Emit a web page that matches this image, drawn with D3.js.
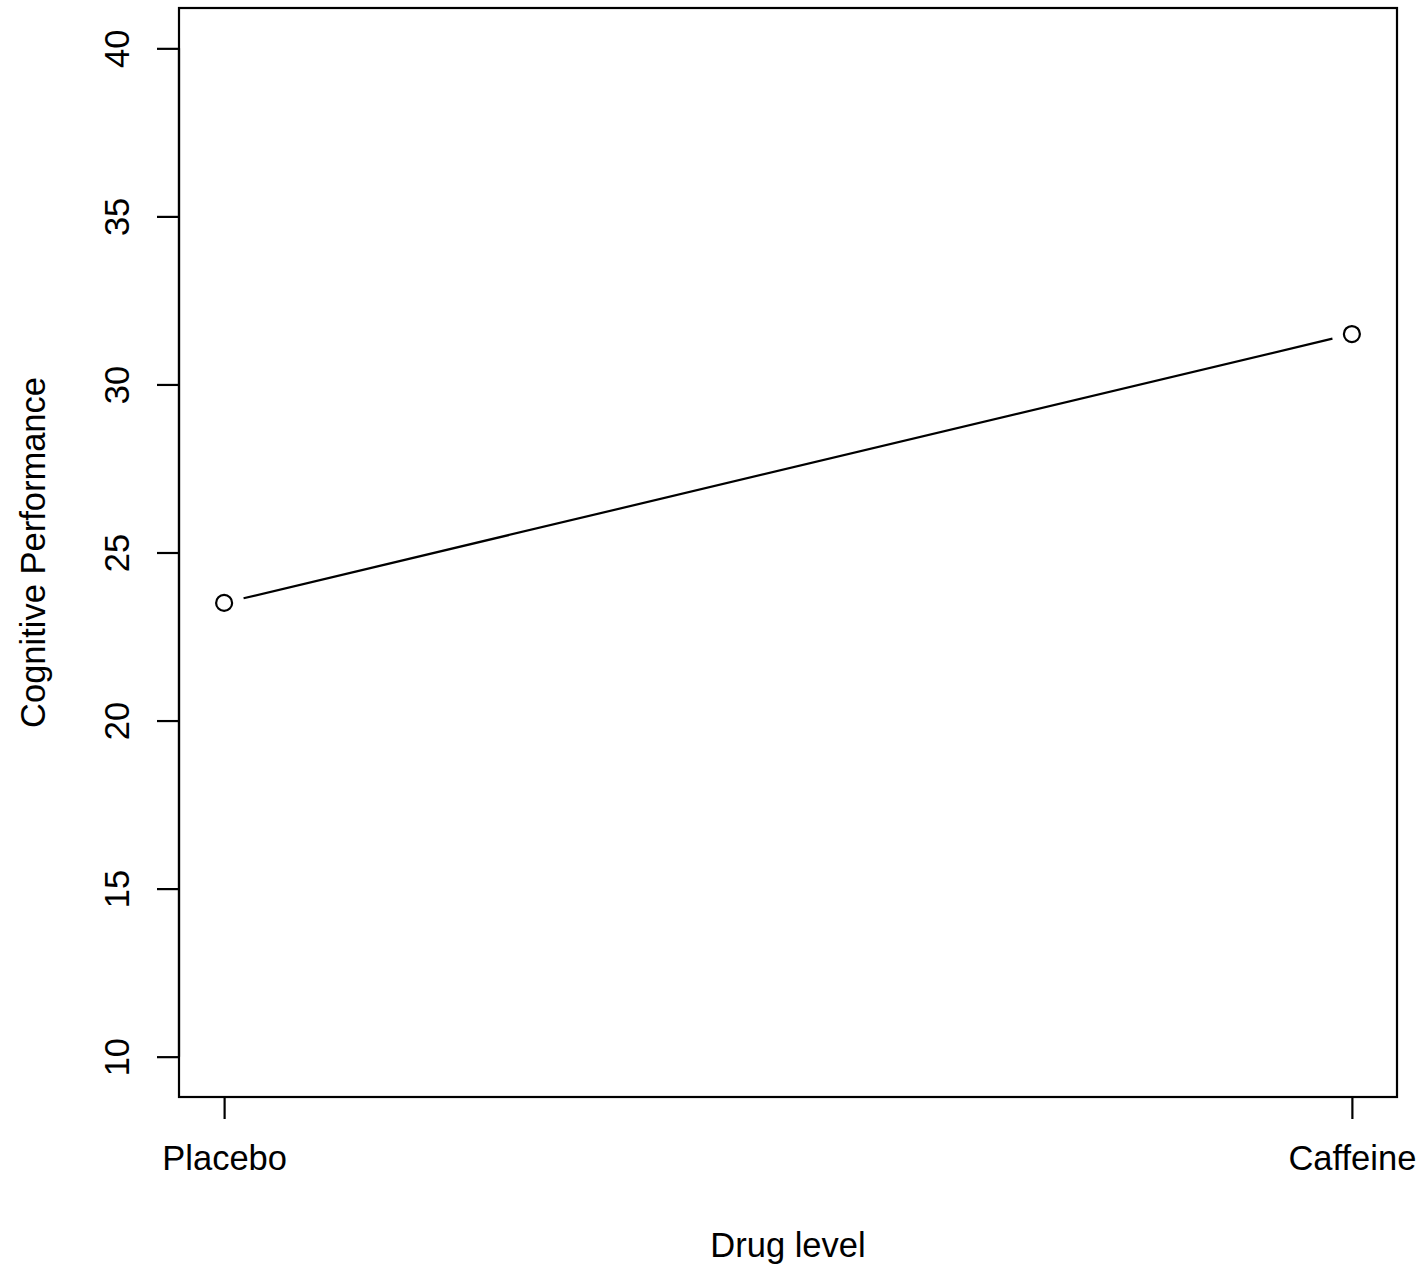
<!DOCTYPE html>
<html><head><meta charset="utf-8">
<script src="https://cdn.jsdelivr.net/npm/d3@7"></script>
<style>body{margin:0;background:#fff}svg{display:block}text{font-family:"Liberation Sans",Arial,sans-serif;fill:#000}</style>
</head><body><div id="chart"></div>
<script>
const categories = ["Placebo", "Caffeine"];
const values = [23.5, 31.5];
const yTicks = [10, 15, 20, 25, 30, 35, 40];
const xLabel = "Drug level";
const yLabel = "Cognitive Performance";

const W = 1423, H = 1267;
const L = 179, R = 1397, T = 8, B = 1097;
const svg = d3.select("#chart").append("svg").attr("width", W).attr("height", H);

const x = d3.scaleLinear().domain([0.96, 2.04]).range([L, R]);
const y = d3.scaleLinear().domain([8.8, 41.2]).range([B, T]);
const fs = 34.5;
const sw = 2.2;

// box
svg.append("rect").attr("x", L).attr("y", T).attr("width", R - L).attr("height", B - T)
  .attr("fill", "none").attr("stroke", "#000").attr("stroke-width", sw);

// x axis
const xa = svg.append("g").attr("transform", `translate(0,${B})`)
  .call(d3.axisBottom(x).tickValues([1, 2]).tickFormat(d => categories[d - 1]).tickSize(22).tickPadding(27));
xa.select(".domain").attr("d", `M${x(1)},0H${x(2)}`).attr("stroke-width", sw);
xa.selectAll(".tick line").attr("stroke-width", sw);
xa.selectAll("text").attr("font-size", fs).attr("font-family", "Liberation Sans, Arial, sans-serif");

// y axis
const ya = svg.append("g").attr("transform", `translate(${L},0)`)
  .call(d3.axisLeft(y).tickValues(yTicks).tickSize(22).tickPadding(0));
ya.select(".domain").attr("d", `M0,${y(10)}V${y(40)}`).attr("stroke-width", sw);
ya.selectAll(".tick line").attr("stroke-width", sw);
ya.selectAll(".tick text").attr("font-size", fs).attr("font-family", "Liberation Sans, Arial, sans-serif")
  .attr("x", null).attr("dy", null)
  .attr("text-anchor", "middle")
  .attr("transform", "translate(-62,0) rotate(-90)")
  .attr("y", 0).attr("dy", "0.35em");

// labels
svg.append("text").attr("x", (L + R) / 2).attr("y", 1257).attr("text-anchor", "middle")
  .attr("font-size", fs).text(xLabel);
svg.append("text").attr("transform", `translate(45,${(T + B) / 2}) rotate(-90)`)
  .attr("text-anchor", "middle").attr("font-size", fs).text(yLabel);

// line with gaps (type = "b")
const pts = values.map((v, i) => [x(i + 1), y(v)]);
const gap = 20;
for (let i = 0; i < pts.length - 1; i++) {
  const [x0, y0] = pts[i], [x1, y1] = pts[i + 1];
  const dx = x1 - x0, dy = y1 - y0, len = Math.hypot(dx, dy);
  const ux = dx / len, uy = dy / len;
  svg.append("line").attr("x1", x0 + ux * gap).attr("y1", y0 + uy * gap)
    .attr("x2", x1 - ux * gap).attr("y2", y1 - uy * gap)
    .attr("stroke", "#000").attr("stroke-width", sw);
}
svg.selectAll("circle.pt").data(values).enter().append("circle")
  .attr("cx", (d, i) => x(i + 1)).attr("cy", d => y(d)).attr("r", 8)
  .attr("fill", "none").attr("stroke", "#000").attr("stroke-width", sw);
</script></body></html>
